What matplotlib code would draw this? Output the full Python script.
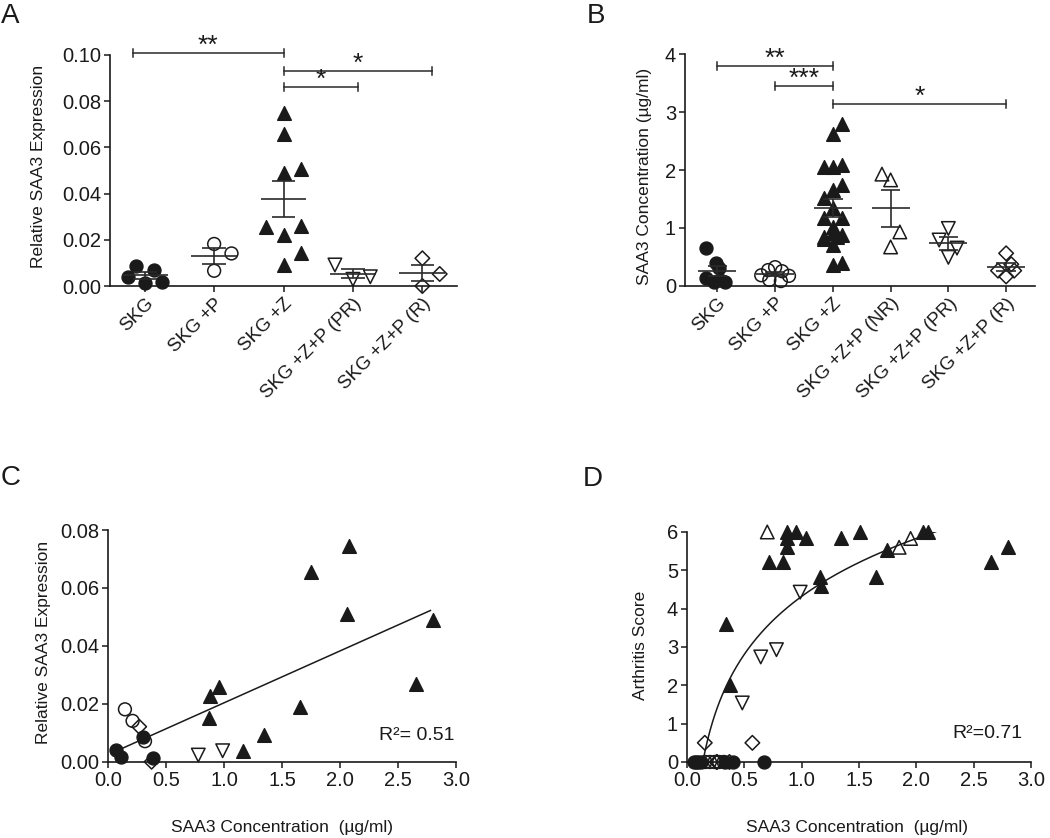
import numpy as np
import matplotlib.pyplot as plt

plt.rcParams['font.family'] = ['Liberation Sans', 'DejaVu Sans']
LABEL_FONT = ['Liberation Sans Narrow', 'Liberation Sans', 'DejaVu Sans']
INK = '#1a1a1a'

# ---- panel A: relative SAA3 expression per group ----
a_groups = ["SKG", "SKG +P", "SKG +Z", "SKG +Z+P (PR)", "SKG +Z+P (R)"]
a_vals = [
    [0.0088, 0.0040, 0.0069, 0.0012, 0.0019],
    [0.0182, 0.0141, 0.0066],
    [0.0747, 0.0657, 0.0491, 0.0505, 0.0257, 0.0221, 0.0261, 0.0144, 0.0091],
    [0.0091, 0.0029, 0.0040],
    [0.0120, 0.0052, 0.0000],
]
a_offsets = [
    [-0.13, -0.24, 0.13, 0.0, 0.25],
    [0.0, 0.25, 0.0],
    [0.0, 0.0, 0.0, 0.25, -0.25, 0.0, 0.25, 0.25, 0.0],
    [-0.26, 0.0, 0.25],
    [0.0, 0.25, 0.0],
]
a_styles = [('o', True), ('o', False), ('^', True), ('v', False), ('D', False)]
# (start, end, height, label)
a_brackets = [(-0.17, 2.0, 0.101, '**'), (2.0, 4.14, 0.093, '*'), (2.0, 3.07, 0.086, '*')]

# ---- panel B: SAA3 concentration per group ----
b_groups = ["SKG", "SKG +P", "SKG +Z", "SKG +Z+P (NR)", "SKG +Z+P (PR)", "SKG +Z+P (R)"]
b_vals = [
    [0.66, 0.40, 0.31, 0.13, 0.07, 0.07, 0.10],
    [0.32, 0.27, 0.25, 0.18, 0.17, 0.10, 0.08],
    [2.80, 2.63, 2.06, 2.05, 2.09, 1.74, 1.66, 1.52, 1.34, 1.17, 1.17, 1.02,
     0.85, 0.91, 0.88, 0.80, 0.84, 0.71, 0.36, 0.40],
    [1.93, 1.83, 0.93, 0.67],
    [0.99, 0.79, 0.65, 0.49],
    [0.56, 0.37, 0.26, 0.26, 0.16],
]
b_offsets = [
    [-0.19, -0.03, 0.03, -0.19, -0.05, 0.13, 0.05],
    [0.0, -0.12, 0.12, -0.24, 0.24, -0.10, 0.10],
    [0.16, 0.0, -0.16, 0.0, 0.16, 0.16, 0.0, -0.16, 0.0, -0.16, 0.16, 0.0,
     -0.16, 0.0, 0.16, -0.16, 0.08, 0.0, 0.0, 0.16],
    [-0.15, 0.0, 0.16, 0.0],
    [0.0, -0.16, 0.15, 0.0],
    [0.0, 0.09, -0.14, 0.14, 0.0],
]
b_styles = [('o', True), ('o', False), ('^', True), ('^', False), ('v', False), ('D', False)]
b_brackets = [(0.0, 2.0, 3.80, '**'), (1.0, 2.0, 3.45, '***'), (2.0, 5.0, 3.15, '*')]

# ---- panel C: expression vs concentration ----
c_skg_x = [0.302, 0.066, 0.107, 0.383]
c_skg_y = [0.0086, 0.0040, 0.0017, 0.0012]
c_p_x = [0.144, 0.210, 0.317]
c_p_y = [0.0181, 0.0141, 0.0071]
c_z_x = [2.08, 1.746, 2.06, 2.80, 0.955, 0.877, 0.871, 1.654, 2.652, 1.346, 1.159]
c_z_y = [0.0745, 0.0656, 0.0509, 0.0489, 0.0259, 0.0227, 0.0152, 0.0190, 0.0270, 0.0094, 0.0037]
c_pr_x = [0.777, 0.987]
c_pr_y = [0.0023, 0.0038]
c_r_x = [0.267, 0.374]
c_r_y = [0.0121, 0.0]
c_slope, c_intercept = 0.0179, 0.00246
c_fit_range = (0.066, 2.78)

# ---- panel D: arthritis score vs concentration ----
d_skg_x = [0.06, 0.08, 0.10, 0.12, 0.33, 0.40, 0.67]
d_skg_y = [0, 0, 0, 0, 0, 0, 0]
d_p_x = [0.16, 0.20, 0.24, 0.28, 0.32]
d_p_y = [0, 0, 0, 0, 0]
d_z_x = [0.336, 0.374, 0.716, 0.833, 0.876, 0.95, 0.87, 0.87, 1.037, 1.344, 1.513,
         1.16, 1.169, 1.65, 1.744, 2.06, 2.10, 2.65, 2.80]
d_z_y = [3.61, 2.0, 5.22, 5.22, 6.0, 6.0, 5.83, 5.6, 5.83, 5.83, 6.0,
         4.83, 4.6, 4.83, 5.52, 6.0, 6.0, 5.22, 5.6]
d_nr_x = [0.70, 1.85, 1.95]
d_nr_y = [6.0, 5.6, 5.83]
d_pr_x = [0.987, 0.643, 0.78, 0.482]
d_pr_y = [4.43, 2.74, 2.93, 1.54]
d_r_x = [0.155, 0.57, 0.26, 0.26, 0.37]
d_r_y = [0.5, 0.5, 0, 0, 0]
d_log_a, d_log_b = 2.18, 4.32
d_fit_range = (0.14, 2.21)

SIZES = {'o': 85, '^': 95, 'v': 95, 'D': 55}


def style_axes(ax):
    for side in ['top', 'right']:
        ax.spines[side].set_visible(False)
    for side in ['left', 'bottom']:
        ax.spines[side].set_linewidth(1.2)
        ax.spines[side].set_color(INK)
    ax.tick_params(direction='out', length=4.5, width=1.1, color=INK,
                   labelsize=14.5, labelcolor=INK, pad=2)


def pts(ax, x, y, marker, filled):
    ax.scatter(x, y, marker=marker, s=SIZES[marker],
               facecolors=INK if filled else 'none', edgecolors=INK,
               linewidths=1.1, zorder=3, clip_on=False)


def column(ax, i, vals, offs, marker, filled):
    pts(ax, i + np.array(offs), vals, marker, filled)
    m = np.mean(vals)
    se = np.std(vals, ddof=1) / np.sqrt(len(vals))
    kw = dict(color='#2a2a2a', lw=1.2, zorder=4)
    ax.hlines(m, i - 0.33, i + 0.33, **kw)
    ax.hlines([m - se, m + se], i - 0.17, i + 0.17, **kw)
    ax.vlines(i, m - se, m + se, **kw)


def bracket(ax, x0, x1, y, tick, label):
    kw = dict(color='#2a2a2a', lw=1.1, clip_on=False)
    ax.plot([x0, x1], [y, y], **kw)
    ax.plot([x0, x0], [y - tick, y + tick], **kw)
    ax.plot([x1, x1], [y - tick, y + tick], **kw)
    ax.text((x0 + x1) / 2, y, label, ha='center', va='baseline', fontsize=19, color=INK)


fig = plt.figure(figsize=(10.5, 8.38), dpi=100)

# panel A
axA = fig.add_axes([0.1048, 0.6587, 0.3305, 0.2757])
style_axes(axA)
for i, (vals, offs, (mk, fl)) in enumerate(zip(a_vals, a_offsets, a_styles)):
    column(axA, i, vals, offs, mk, fl)
for x0, x1, y, lab in a_brackets:
    bracket(axA, x0, x1, y, 0.0018, lab)
axA.set_xlim(-0.5, 4.5)
axA.set_ylim(0, 0.10)
axA.set_yticks(np.arange(0, 0.101, 0.02))
axA.set_yticklabels([f"{v:.2f}" for v in np.arange(0, 0.101, 0.02)])
axA.set_xticks(range(len(a_groups)))
axA.set_xticklabels(a_groups, rotation=45, ha='right', rotation_mode='anchor', fontsize=13.5)

# panel B
axB = fig.add_axes([0.6524, 0.6591, 0.3333, 0.2759])
style_axes(axB)
for i, (vals, offs, (mk, fl)) in enumerate(zip(b_vals, b_offsets, b_styles)):
    column(axB, i, vals, offs, mk, fl)
for x0, x1, y, lab in b_brackets:
    bracket(axB, x0, x1, y, 0.07, lab)
axB.set_xlim(-0.56, 5.5)
axB.set_ylim(0, 4)
axB.set_yticks(range(5))
axB.set_xticks(range(len(b_groups)))
axB.set_xticklabels(b_groups, rotation=45, ha='right', rotation_mode='anchor', fontsize=13.5)

# panel C
axC = fig.add_axes([0.1031, 0.0910, 0.3311, 0.2765])
style_axes(axC)
fx = np.linspace(*c_fit_range, 50)
axC.plot(fx, c_slope * fx + c_intercept, color=INK, lw=1.1, zorder=2)
pts(axC, c_skg_x, c_skg_y, 'o', True)
pts(axC, c_p_x, c_p_y, 'o', False)
pts(axC, c_z_x, c_z_y, '^', True)
pts(axC, c_pr_x, c_pr_y, 'v', False)
pts(axC, c_r_x, c_r_y, 'D', False)
axC.set_xlim(0, 3)
axC.set_ylim(0, 0.08)
axC.set_xticks(np.arange(0, 3.01, 0.5))
axC.set_xticklabels([f"{v:.1f}" for v in np.arange(0, 3.01, 0.5)])
axC.set_yticks(np.arange(0, 0.081, 0.02))
axC.set_yticklabels([f"{v:.2f}" for v in np.arange(0, 0.081, 0.02)])
axC.text(0.995, 0.115, "R²= 0.51", transform=axC.transAxes, ha='right', va='center',
         fontsize=14, color=INK)

# panel D
axD = fig.add_axes([0.6543, 0.0907, 0.3276, 0.2745])
style_axes(axD)
fx = np.linspace(*d_fit_range, 200)
axD.plot(fx, d_log_a * np.log(fx) + d_log_b, color=INK, lw=1.1, zorder=2)
pts(axD, d_skg_x, d_skg_y, 'o', True)
pts(axD, d_p_x, d_p_y, 'o', False)
pts(axD, d_z_x, d_z_y, '^', True)
pts(axD, d_nr_x, d_nr_y, '^', False)
pts(axD, d_pr_x, d_pr_y, 'v', False)
pts(axD, d_r_x, d_r_y, 'D', False)
axD.set_xlim(0, 3)
axD.set_ylim(0, 6)
axD.set_xticks(np.arange(0, 3.01, 0.5))
axD.set_xticklabels([f"{v:.1f}" for v in np.arange(0, 3.01, 0.5)])
axD.set_yticks(range(7))
axD.text(0.975, 0.125, "R²=0.71", transform=axD.transAxes, ha='right', va='center',
         fontsize=14, color=INK)

# axis titles, placed in figure pixels
W, H = 1050, 838
def ftext(x, y, s, **kw):
    fig.text(x / W, 1 - y / H, s, ha='center', va='center', color=INK, **kw)

ftext(39, 166, "Relative SAA3 Expression", rotation=90, fontsize=12.5, family=LABEL_FONT)
ftext(644, 176, "SAA3 Concentration (\u00b5g/ml)", rotation=90, fontsize=12.5, family=LABEL_FONT)
ftext(43.5, 642, "Relative SAA3 Expression", rotation=90, fontsize=12.5, family=LABEL_FONT)
ftext(640, 645, "Arthritis Score", rotation=90, fontsize=12.5, family=LABEL_FONT)
ftext(282, 827, "SAA3 Concentration  (\u00b5g/ml)", fontsize=12.5, family=LABEL_FONT)
ftext(857, 827, "SAA3 Concentration  (\u00b5g/ml)", fontsize=12.5, family=LABEL_FONT)

for x, y, s in [(10, 16, 'A'), (596, 16, 'B'), (11, 478, 'C'), (593, 479, 'D')]:
    ftext(x, y, s, fontsize=20)

fig.savefig("out.png", dpi=100)
